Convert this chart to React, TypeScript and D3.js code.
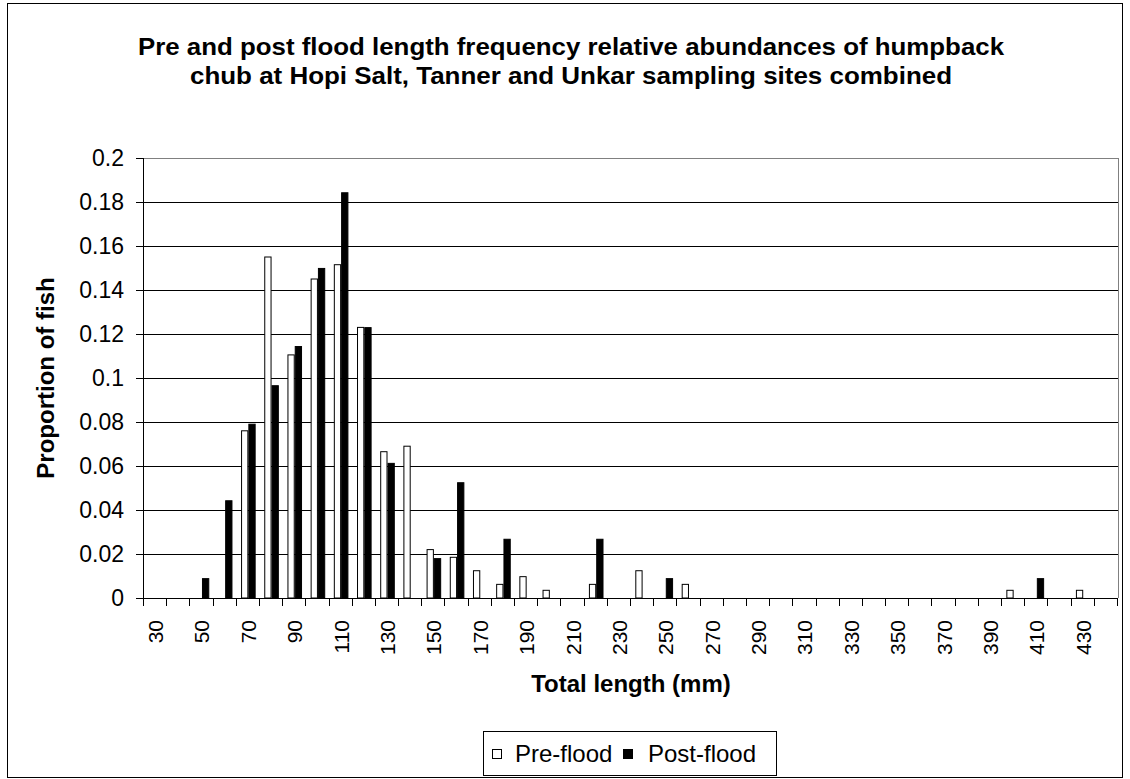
import React from 'react';
import * as d3 from 'd3';

// length classes (mm)
const lengthClasses = [
  '30', '40', '50', '60', '70', '80', '90', '100', '110', '120',
  '130', '140', '150', '160', '170', '180', '190', '200', '210', '220',
  '230', '240', '250', '260', '270', '280', '290', '300', '310', '320',
  '330', '340', '350', '360', '370', '380', '390', '400', '410', '420',
  '430', '440',
];

const preFlood = [
  0, 0, 0, 0, 0.076, 0.155, 0.1105, 0.145, 0.1515, 0.123,
  0.0665, 0.069, 0.022, 0.0185, 0.0124, 0.0062, 0.0097, 0.0035, 0, 0.0062,
  0, 0.0124, 0, 0.0062, 0, 0, 0, 0, 0, 0,
  0, 0, 0, 0, 0, 0, 0, 0.0035, 0, 0,
  0.0035, 0,
];

const postFlood = [
  0, 0, 0.0088, 0.0442, 0.079, 0.0965, 0.1143, 0.1498, 0.1842, 0.1229,
  0.0612, 0, 0.0179, 0.0524, 0, 0.0267, 0, 0, 0, 0.0267,
  0, 0, 0.0088, 0, 0, 0, 0, 0, 0, 0,
  0, 0, 0, 0, 0, 0, 0, 0, 0.0088, 0,
  0, 0,
];

const yTicks = [0, 0.02, 0.04, 0.06, 0.08, 0.1, 0.12, 0.14, 0.16, 0.18, 0.2];
const seriesNames = ['Pre-flood', 'Post-flood'];
const seriesFill = ['#ffffff', '#000000'];

const titleLines = [
  'Pre and post flood length frequency relative abundances of humpback',
  'chub at Hopi Salt, Tanner and Unkar sampling sites combined',
];

const FONT = '"Liberation Sans", Arial, sans-serif';

const plot = { left: 144, right: 1118, top: 158, bottom: 598 };

export default function App() {
  const x = d3.scaleBand().domain(lengthClasses).range([plot.left, plot.right]).padding(0);
  const xs = d3.scaleBand().domain(seriesNames).range([0, x.bandwidth()]).paddingInner(0).paddingOuter(0.59);
  const y = d3.scaleLinear().domain([0, 0.2]).range([plot.bottom, plot.top]);
  const fmt = (v: number) => String(+v.toFixed(2));

  const series = [preFlood, postFlood];

  return (
    <svg width={1130} height={779} style={{ position: 'absolute', left: 0, top: 0, background: '#fff' }} fontFamily={FONT}>
      <rect x={7.5} y={3.5} width={1115} height={774} fill="#fff" stroke="#000" strokeWidth={1} />

      {/* title */}
      <text x={571} y={55} textAnchor="middle" fontSize={24} fontWeight="bold" textLength={866} lengthAdjust="spacingAndGlyphs">
        {titleLines[0]}
      </text>
      <text x={571} y={84} textAnchor="middle" fontSize={24} fontWeight="bold" textLength={762} lengthAdjust="spacingAndGlyphs">
        {titleLines[1]}
      </text>

      {/* gridlines */}
      {yTicks.map((t) => (
        <line key={'g' + t} x1={plot.left} x2={plot.right} y1={Math.round(y(t)) + 0.5} y2={Math.round(y(t)) + 0.5}
          stroke={t === 0.2 ? '#808080' : '#000'} strokeWidth={1} />
      ))}
      <line x1={plot.right + 0.5} x2={plot.right + 0.5} y1={plot.top} y2={plot.bottom} stroke="#808080" />

      {/* bars */}
      {series.map((vals, si) =>
        vals.map((v, i) =>
          v > 0 ? (
            <rect key={si + '-' + i}
              x={(x(lengthClasses[i]) as number) + (xs(seriesNames[si]) as number) + 0.5}
              y={y(v)}
              width={xs.bandwidth() - 1}
              height={y(0) - y(v)}
              fill={seriesFill[si]} stroke="#000" strokeWidth={1} />
          ) : null
        )
      )}

      {/* y axis */}
      <line x1={plot.left - 0.5} x2={plot.left - 0.5} y1={plot.top} y2={plot.bottom} stroke="#000" />
      {yTicks.map((t) => (
        <g key={'yt' + t}>
          <line x1={plot.left - 8} x2={plot.left} y1={Math.round(y(t)) + 0.5} y2={Math.round(y(t)) + 0.5} stroke="#000" />
          <text x={124} y={y(t)} textAnchor="end" dominantBaseline="central" fontSize={23}>{fmt(t)}</text>
        </g>
      ))}

      {/* x axis */}
      <line x1={plot.left} x2={plot.right} y1={plot.bottom + 0.5} y2={plot.bottom + 0.5} stroke="#000" />
      {lengthClasses.concat(['end']).map((c, i) => {
        const xx = Math.round(plot.left + i * x.step()) - 0.5;
        return <line key={'xt' + i} x1={xx} x2={xx} y1={plot.bottom} y2={plot.bottom + 8} stroke="#000" />;
      })}
      {lengthClasses.map((c, i) =>
        i % 2 === 0 ? (
          <text key={'xl' + c} transform={`translate(${(x(c) as number) + x.bandwidth() / 2},620) rotate(-90)`}
            textAnchor="end" dominantBaseline="central" fontSize={21}>{c}</text>
        ) : null
      )}

      {/* axis titles */}
      <text x={631} y={692} textAnchor="middle" fontSize={24} fontWeight="bold">Total length (mm)</text>
      <text transform={`translate(54,${(plot.top + plot.bottom) / 2}) rotate(-90)`} textAnchor="middle" fontSize={24} fontWeight="bold">
        Proportion of fish
      </text>

      {/* legend */}
      <rect x={483.5} y={731.5} width={293} height={44} fill="#fff" stroke="#000" />
      <rect x={492.5} y={749.5} width={9} height={9} fill={seriesFill[0]} stroke="#000" />
      <text x={515} y={762} fontSize={24}>{seriesNames[0]}</text>
      <rect x={623.5} y={749.5} width={9} height={9} fill={seriesFill[1]} stroke="#000" />
      <text x={648} y={762} fontSize={24}>{seriesNames[1]}</text>
    </svg>
  );
}
